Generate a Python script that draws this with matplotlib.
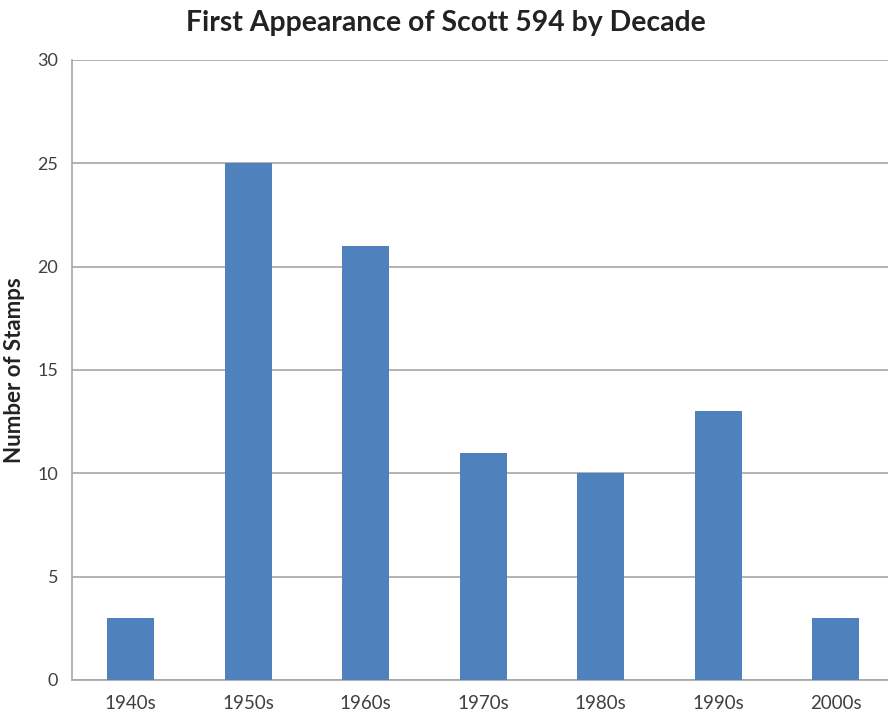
import matplotlib
matplotlib.use("Agg")
import matplotlib.pyplot as plt

decades = ["1940s", "1950s", "1960s", "1970s", "1980s", "1990s", "2000s"]
counts = [3, 25, 21, 11, 10, 13, 3]
yticks = [0, 5, 10, 15, 20, 25, 30]

plt.rcParams['font.family'] = ['Lato', 'DejaVu Sans']

fig = plt.figure(figsize=(8.88, 7.17), dpi=100)
ax = fig.add_axes([72/888, 37/717, 822.5/888, 620/717])
x = range(len(decades))
ax.bar(x, counts, width=0.4, color='#4f81bd', zorder=3)
ax.set_xlim(-0.5, len(decades) - 0.5)
ax.set_ylim(0, 30)
ax.set_yticks(yticks)
ax.set_xticks(list(x))
ax.set_xticklabels(decades)
ax.yaxis.grid(True, color='#a6a6a6', linewidth=1.2, zorder=0)
ax.tick_params(length=0, labelsize=13, colors='#404040', pad=10)
ax.tick_params(axis='x', labelsize=13.5, pad=11)
for s in ['top', 'right']:
    ax.spines[s].set_visible(False)
for s in ['left', 'bottom']:
    ax.spines[s].set_color('#a6a6a6')
    ax.spines[s].set_linewidth(1.2)
ax.set_ylabel("Number of Stamps", fontsize=16, fontweight='bold', color='#222222', labelpad=9)
fig.text(446/888, 1 - 23/717, "First Appearance of Scott 594 by Decade", ha='center', va='center',
         fontsize=20.4, fontweight='bold', color='#222222')
fig.savefig("out.png", dpi=100)
